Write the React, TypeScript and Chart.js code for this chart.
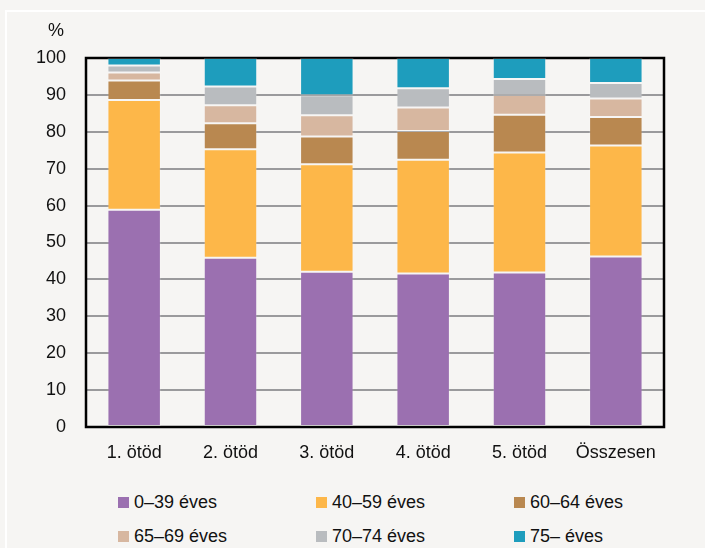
import React, { useEffect, useRef } from "react";
import { Chart, registerables } from "chart.js";

Chart.register(...registerables);

const categories = ["1. ötöd", "2. ötöd", "3. ötöd", "4. ötöd", "5. ötöd", "Összesen"];
const seriesNames = ["0–39 éves", "40–59 éves", "60–64 éves", "65–69 éves", "70–74 éves", "75– éves"];
const age0_39 = [58.9, 45.9, 42.1, 41.6, 41.9, 46.2];
const age40_59 = [29.7, 29.4, 29.1, 30.8, 32.5, 30.1];
const age60_64 = [5.3, 7.0, 7.5, 7.8, 10.2, 7.7];
const age65_69 = [2.2, 4.9, 5.8, 6.4, 5.4, 5.0];
const age70_74 = [1.9, 5.1, 5.4, 5.2, 4.3, 4.2];
const age75 = [2.0, 7.7, 10.1, 8.2, 5.7, 6.8];
const yTicks = [0, 10, 20, 30, 40, 50, 60, 70, 80, 90, 100];
const colors = ["#9b70b0", "#fdb749", "#b98850", "#d7b7a0", "#b9bcbf", "#1e9dbd"];

const FONT = '"Liberation Sans", Arial, sans-serif';

export default function App() {
  const ref = useRef<HTMLCanvasElement | null>(null);

  useEffect(() => {
    if (!ref.current) return;
    const values = [age0_39, age40_59, age60_64, age65_69, age70_74, age75];
    const frame = {
      id: "frame",
      beforeDatasetsDraw(chart: any) {
        const { ctx, chartArea } = chart;
        ctx.save();
        ctx.strokeStyle = "#000";
        ctx.lineWidth = 2.5;
        ctx.strokeRect(chartArea.left, chartArea.top, chartArea.right - chartArea.left, chartArea.bottom - chartArea.top);
        ctx.restore();
      },
    };
    const chart = new Chart(ref.current, {
      type: "bar",
      data: {
        labels: categories,
        datasets: seriesNames.map((name, i) => ({
          label: name,
          data: values[i],
          backgroundColor: colors[i],
          borderColor: "rgba(255,255,255,0.18)",
          borderWidth: 1,
          borderSkipped: false,
          categoryPercentage: 1,
          barPercentage: 0.555,
        })),
      },
      options: {
        animation: false,
        responsive: false,
        devicePixelRatio: 1,
        layout: { padding: { left: 0, right: 41, top: 58, bottom: 0 } },
        plugins: { legend: { display: false }, tooltip: { enabled: false } },
        scales: {
          x: {
            stacked: true,
            afterFit: (s: any) => { s.height = 43; },
            grid: { display: false, drawTicks: false },
            border: { display: false },
            ticks: { color: "#111", padding: 15, font: { family: FONT, size: 18 } },
          },
          y: {
            stacked: true,
            min: 0,
            max: 100,
            afterFit: (s: any) => { s.width = 86; },
            afterBuildTicks: (s: any) => { s.ticks = yTicks.map((v) => ({ value: v })); },
            grid: { color: "#9a9a9c", lineWidth: 2, drawTicks: false },
            border: { display: false },
            ticks: { color: "#111", padding: 20, font: { family: FONT, size: 18 } },
          },
        },
      },
      plugins: [frame],
    });
    return () => chart.destroy();
  }, []);

  return (
    <div style={{ position: "absolute", left: 0, top: 0, width: 705, height: 548, background: "#f6f5f3", overflow: "hidden", fontFamily: FONT }}>
      <div style={{ position: "absolute", left: 5, top: 10, width: 720, height: 560, borderLeft: "2px solid #fff", borderTop: "2px solid #fff" }} />
      <canvas ref={ref} width={705} height={470} style={{ position: "absolute", left: 0, top: 0, width: 705, height: 470 }} />
      <div style={{ position: "absolute", left: 48, top: 20, fontSize: 18, color: "#111" }}>%</div>
      {seriesNames.map((name, i) => {
        const col = i % 3;
        const row = Math.floor(i / 3);
        return (
          <div key={name} style={{ position: "absolute", left: 118 + col * 198, top: 489 + row * 34, height: 26, display: "flex", alignItems: "center", fontSize: 18, color: "#111", whiteSpace: "nowrap" }}>
            <span style={{ display: "inline-block", width: 11, height: 11, background: colors[i], marginRight: 5 }} />
            {name}
          </div>
        );
      })}
    </div>
  );
}
